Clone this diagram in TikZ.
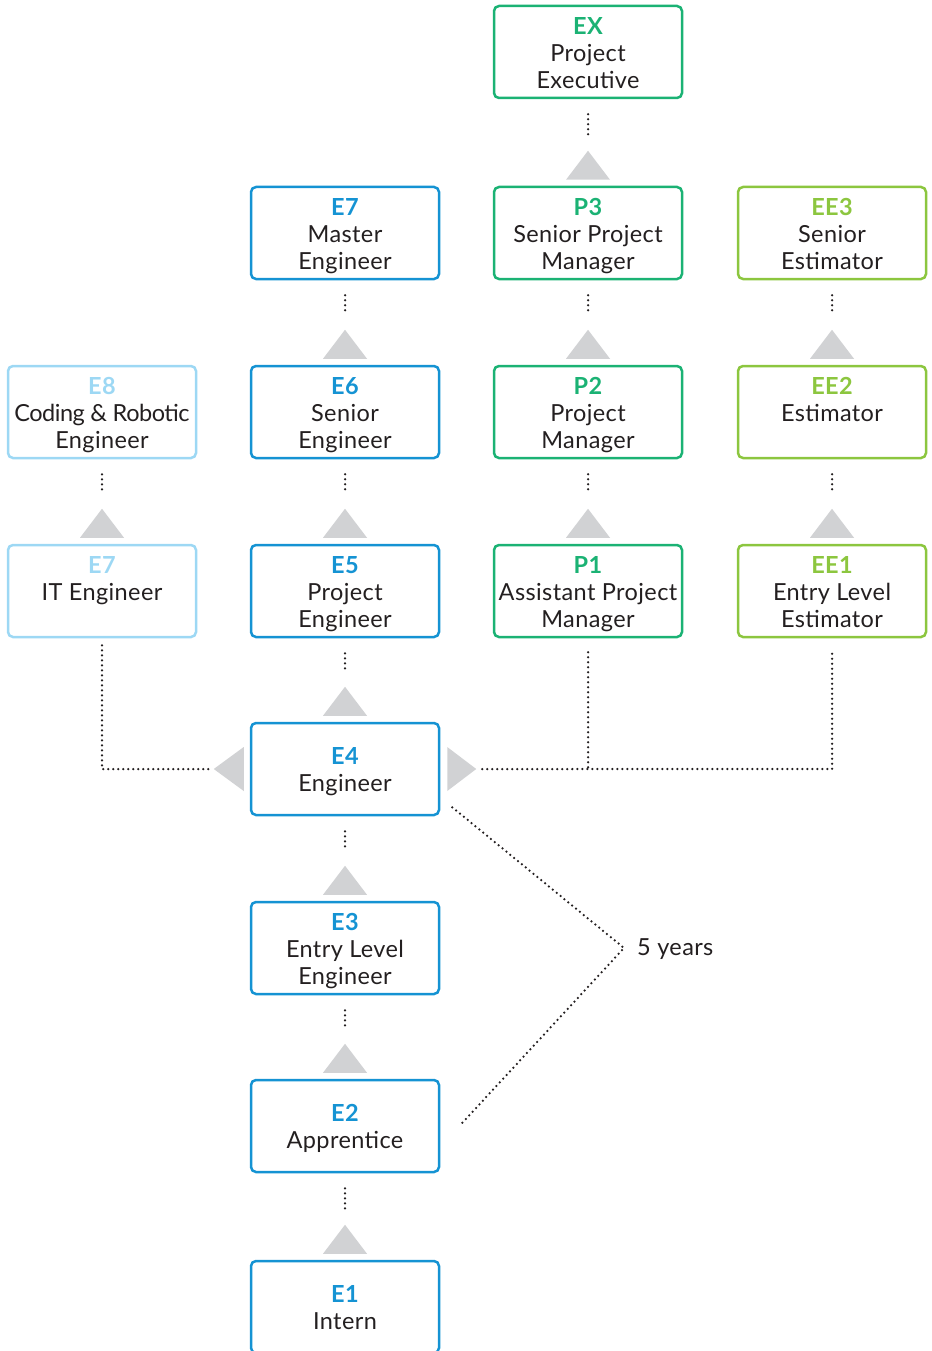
\documentclass[tikz,border=0pt]{standalone}
\usepackage{fontspec}
\setmainfont{Lato}[LetterSpace=1.7]
\usetikzlibrary{calc}
\definecolor{eblue}{HTML}{1593D3}
\definecolor{lblue}{HTML}{9DD8F4}
\definecolor{pgreen}{HTML}{1BB274}
\definecolor{lgreen}{HTML}{8CC63F}
\definecolor{trigray}{HTML}{D1D2D4}
\definecolor{txt}{HTML}{231F20}
\newcommand\lab[2]{\rule{0pt}{25.3pt}\textcolor{#1}{\bfseries #2}}
\newcommand\uptri[1]{\fill[trigray] ($(#1)+(-22,-6)$) -- ++(44,0) -- ++(-22,-29) -- cycle;}
\tikzset{
  box/.style={draw=#1, line width=2.5pt, rounded corners=5pt, minimum width=188pt,
    minimum height=92pt, align=center, inner sep=0pt, text=txt,
    font=\fontsize{23.5}{27}\selectfont,
    execute at end node={\rule[-7pt]{0pt}{7pt}}},
  dots/.style={line width=2.5pt, line cap=round, dash pattern=on 0pt off 5pt, draw=txt},
  vlink/.style={dots, shorten <=15pt, shorten >=50pt},
}
\begin{document}
\begin{tikzpicture}[x=1pt,y=-1pt]
\useasboundingbox (0,0) rectangle (931,1351);
% green project column
\node[box=pgreen] (ex) at (588,52) {\lab{pgreen}{EX}\\Project\\Executive};
\node[box=pgreen] (p3) at (588,233) {\lab{pgreen}{P3}\\Senior Project\\Manager};
\node[box=pgreen] (p2) at (588,412) {\lab{pgreen}{P2}\\Project\\Manager};
\node[box=pgreen] (p1) at (588,591) {\lab{pgreen}{P1}\\Assistant Project\\Manager};
% estimator column
\node[box=lgreen] (ee3) at (832,233) {\lab{lgreen}{EE3}\\Senior\\Estimator};
\node[box=lgreen] (ee2) at (832,412) {\lab{lgreen}{EE2}\\Estimator\\\mbox{}};
\node[box=lgreen] (ee1) at (832,591) {\lab{lgreen}{EE1}\\Entry Level\\Estimator};
% IT column
\node[box=lblue] (e8) at (102,412) {\lab{lblue}{E8}\\{\addfontfeatures{LetterSpace=-2}Coding \& Robotic}\\Engineer};
\node[box=lblue] (e7it) at (102,591) {\lab{lblue}{E7}\\IT Engineer\\\mbox{}};
% engineer column
\node[box=eblue] (e7m) at (345,233) {\lab{eblue}{E7}\\Master\\Engineer};
\node[box=eblue] (e6) at (345,412) {\lab{eblue}{E6}\\Senior\\Engineer};
\node[box=eblue] (e5) at (345,591) {\lab{eblue}{E5}\\Project\\Engineer};
\node[box=eblue] (e4) at (345,769) {\lab{eblue}{E4}\\Engineer};
\node[box=eblue] (e3) at (345,948) {\lab{eblue}{E3}\\Entry Level\\Engineer};
\node[box=eblue] (e2) at (345,1126) {\lab{eblue}{E2}\\Apprentice};
\node[box=eblue] (e1) at (345,1307) {\lab{eblue}{E1}\\Intern};
% vertical links
\foreach \u/\l in {ex/p3, p3/p2, p2/p1, ee3/ee2, ee2/ee1, e8/e7it,
                   e7m/e6, e6/e5, e5/e4, e4/e3, e3/e2, e2/e1} {
  \draw[vlink] (\u.south) -- (\l.north);
  \uptri{\l.north}
}
% side triangles at E4
\fill[trigray] ($(e4.west)+(-6,-22)$) -- ++(0,44) -- ++(-30,-22) -- cycle;
\fill[trigray] ($(e4.east)+(7,-22)$) -- ++(0,44) -- ++(29,-22) -- cycle;
% side links
\draw[dots, shorten <=7pt] (e7it.south) |- ($(e4.west)+(-39,0)$);
\draw[dots, shorten >=14pt] ($(e4.east)+(42,0)$) -| (ee1.south);
\draw[dots, shorten <=14pt] (p1.south) -- (p1.south |- e4.east);
% 5 years
\node[anchor=west, text=txt, inner sep=0pt, font=\fontsize{23.5}{27}\selectfont] (yrs) at (637,949) {5 years};
\coordinate (yp) at (624,948);
\draw[dots] ($(e4.south east)+(12,-9)$) -- (yp) -- ($(e2.east)+(21,-2)$);
\end{tikzpicture}
\end{document}
